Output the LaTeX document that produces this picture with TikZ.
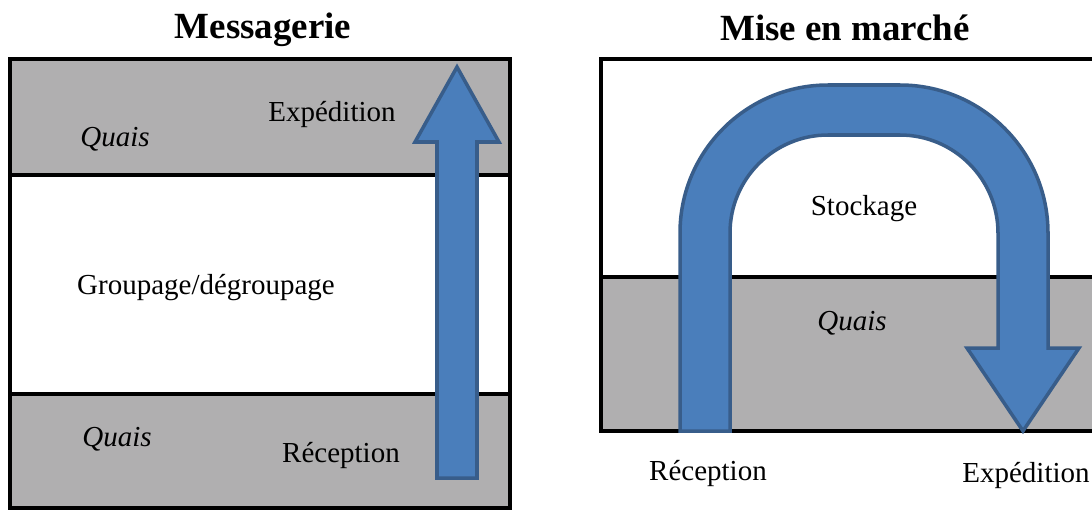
\documentclass[tikz,border=0pt]{standalone}
\usepackage{fontspec}
\setmainfont{Liberation Serif}
\usepackage{xcolor}
\usetikzlibrary{positioning}

\definecolor{quaigris}{RGB}{176,175,176}
\definecolor{flecheBleu}{RGB}{74,126,187}
\definecolor{flecheBord}{RGB}{56,93,138}

\begin{document}
\begin{tikzpicture}[x=0.02cm, y=-0.02cm]

% Styles
\tikzstyle{zone} = [draw=black, line width=2.3pt]
\tikzstyle{quai} = [fill=quaigris]
\tikzstyle{fleche} = [fill=flecheBleu, draw=flecheBord, line width=2pt, line join=miter]
\tikzstyle{texte} = [font=\fontsize{16.5}{20}\selectfont, inner sep=0pt]
\tikzstyle{titre} = [font=\fontsize{21}{25}\selectfont\bfseries, inner sep=0pt]

\clip (0,0) rectangle (1092,511);

% Messagerie
\fill[quai] (10,59) rectangle (510,175);
\fill[quai] (10,394) rectangle (510,508);
\draw[zone] (10,59) rectangle (510,508);
\draw[zone] (10,175) -- (510,175);
\draw[zone] (10,394) -- (510,394);

\draw[fleche] (437,478) -- (437,142) -- (415,142) -- (457,67) -- (499,142)
  -- (477,142) -- (477,478) -- cycle;

\node (titreA) [titre] at (263,30) {Messagerie};
\node (expA) [texte] at (332,115) {Expédition};
\node (quaiA) [texte, font=\fontsize{16.5}{20}\selectfont\itshape] at (115,139) {Quais};
\node (group) [texte] at (206,288) {Groupage/dégroupage};
\node (quaiB) [texte, font=\fontsize{16.5}{20}\selectfont\itshape] at (117,439) {Quais};
\node (recA) [texte] at (341,455) {Réception};

% Mise en marche
\fill[quai] (601,277) rectangle (1120,431);
\draw[zone] (601,59) rectangle (1120,431);
\draw[zone] (601,277) -- (1120,277);

\draw[fleche] (680,431) -- (680,233)
  .. controls (680,151.3) and (746.3,85) .. (828,85) -- (900,85)
  .. controls (981.7,85) and (1048,151.3) .. (1048,233)
  -- (1048,348) -- (1079,348) -- (1023,431) -- (967,348) -- (998,348) -- (998,233)
  .. controls (998,178.9) and (953.9,135) .. (900,135) -- (828,135)
  .. controls (773.9,135) and (730,178.9) .. (730,233) -- (730,431) -- cycle;

\node (titreB) [titre] at (845,28) {Mise en marché};
\node (stock) [texte] at (864,209) {Stockage};
\node (quaiC) [texte, font=\fontsize{16.5}{20}\selectfont\itshape] at (852,323) {Quais};
\node (recB) [texte] at (708,473) {Réception};
\node (expB) [texte] at (1026,475) {Expédition};

\end{tikzpicture}
\end{document}
